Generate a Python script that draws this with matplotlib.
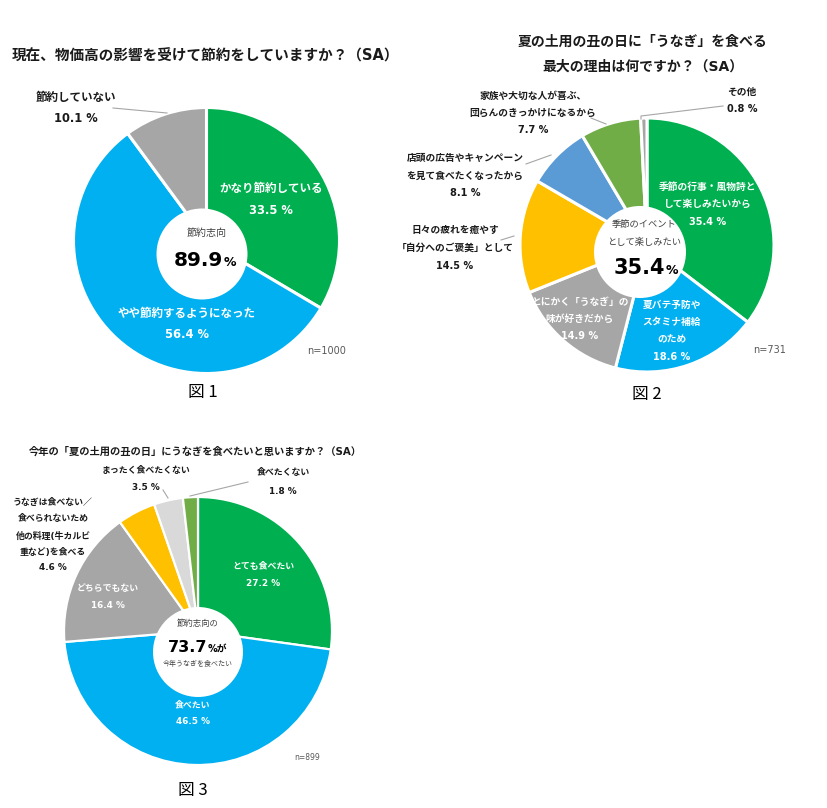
import matplotlib
matplotlib.use("Agg")
import matplotlib.pyplot as plt
from matplotlib.patches import Circle

# ---------------- data ----------------
c1_title = "現在、物価高の影響を受けて節約をしていますか？（SA）"
c1_cats = ["かなり節約している", "やや節約するようになった", "節約していない"]
c1_vals = [33.5, 56.4, 10.1]
c1_center_label = "節約志向"
c1_center_value = "89.9"
c1_n = "n=1000"

c2_title = ["夏の土用の丑の日に「うなぎ」を食べる", "最大の理由は何ですか？（SA）"]
c2_cats = ["季節の行事・風物詩と\nして楽しみたいから", "夏バテ予防や\nスタミナ補給\nのため",
           "とにかく「うなぎ」の\n味が好きだから", "日々の疲れを癒やす\n「自分へのご褒美」として",
           "店頭の広告やキャンペーン\nを見て食べたくなったから",
           "家族や大切な人が喜ぶ、\n団らんのきっかけになるから", "その他"]
c2_vals = [35.4, 18.6, 14.9, 14.5, 8.1, 7.7, 0.8]
c2_center_label = ["季節のイベント", "として楽しみたい"]
c2_center_value = "35.4"
c2_n = "n=731"

c3_title = "今年の「夏の土用の丑の日」にうなぎを食べたいと思いますか？（SA）"
c3_cats = ["とても食べたい", "食べたい", "どちらでもない",
           "うなぎは食べない／\n食べられないため\n他の料理(牛カルビ\n重など)を食べる",
           "まったく食べたくない", "食べたくない"]
c3_vals = [27.2, 46.5, 16.4, 4.6, 3.5, 1.8]
c3_center_label = ["節約志向の", "今年うなぎを食べたい"]
c3_center_value = "73.7"
c3_n = "n=899"

fig_labels = ["図 1", "図 2", "図 3"]

# ---------------- styles ----------------
GREEN, BLUE, GRAY = "#00B050", "#00B0F0", "#A6A6A6"
YELLOW, BLUE2, GREEN2, LGRAY = "#FFC000", "#5B9BD5", "#70AD47", "#D9D9D9"
c1_colors = [GREEN, BLUE, GRAY]
c2_colors = [GREEN, BLUE, GRAY, YELLOW, BLUE2, GREEN2, GRAY]
c3_colors = [GREEN, BLUE, GRAY, YELLOW, LGRAY, GREEN2]

FAM = ["DejaVu Sans", "Noto Sans CJK JP"]
JFAM = ["Noto Sans CJK JP", "DejaVu Sans"]
DARK = "#1a1a1a"
LINEC = "#A6A6A6"

W, H = 827, 808
fig = plt.figure(figsize=(W / 100, H / 100), dpi=100)
ax = fig.add_axes([0, 0, 1, 1])


def Y(y):
    return H - y


def lines(x, ys, text, color=DARK, size=8, weight="bold", fam=FAM):
    for yy, s in zip(ys, text):
        ax.text(x, Y(yy), s, ha="center", va="center", color=color,
                fontsize=size, fontweight=weight, family=fam, zorder=8)


def donut(vals, colors, c, r, hole_c, hole_r, lw):
    ax.pie(vals, colors=colors, startangle=90, counterclock=False,
           center=(c[0], Y(c[1])), radius=r, frame=True,
           wedgeprops=dict(edgecolor="white", linewidth=lw))
    ax.add_patch(Circle((hole_c[0], Y(hole_c[1])), hole_r, facecolor="white",
                        edgecolor="none", zorder=5))


def leader(pts):
    ax.plot([p[0] for p in pts], [Y(p[1]) for p in pts], color=LINEC, lw=0.8, zorder=6)


def pct(v):
    return f"{v} %"


# ================= chart 1 =================
donut(c1_vals, c1_colors, (206.5, 240.5), 133, (202, 254), 45.5, 2.2)
ax.text(12, Y(56), c1_title, ha="left", va="center", fontsize=10.5,
        fontweight="bold", family=FAM, color=DARK)
pos1 = [(271, [188, 210], "white"), (187, [313, 335], "white"), (76, [98, 119], DARK)]
for cat, v, (x, ys, col) in zip(c1_cats, c1_vals, pos1):
    lines(x, ys, cat.split("\n") + [pct(v)], color=col, size=8.3)
leader([(113, 108), (167, 113)])
ax.text(207, Y(233), c1_center_label, ha="center", va="center", fontsize=7.2,
        family=JFAM, color="#404040", zorder=7)
ax.text(223, Y(266), c1_center_value, ha="right", va="baseline", fontsize=14.5,
        fontweight="bold", family=FAM, color="black", zorder=7)
ax.text(224, Y(266), "%", ha="left", va="baseline", fontsize=9,
        fontweight="bold", family=FAM, color="black", zorder=7)
ax.text(327, Y(351), c1_n, ha="center", va="center", fontsize=7,
        family=FAM, color="#595959")
ax.text(203, Y(392), fig_labels[0], ha="center", va="center", fontsize=12,
        family=JFAM, color="black")

# ================= chart 2 =================
donut(c2_vals, c2_colors, (647, 245), 127, (640, 252), 46, 2.2)
lines(643, [42, 67], c2_title, size=10)
pos2 = [(708, [187, 204, 222], "white"), (672, [305, 322, 339, 357], "white"),
        (580, [302, 319, 336], "white"), (455, [230, 248, 266], DARK),
        (465, [158, 176, 193], DARK), (533, [96, 113, 130], DARK),
        (742, [92, 109], DARK)]
for cat, v, (x, ys, col) in zip(c2_cats, c2_vals, pos2):
    lines(x, ys, cat.split("\n") + [pct(v)], color=col, size=7)
leader([(641, 119), (641, 116), (723, 106)])
leader([(591, 118), (606, 124)])
leader([(526, 164), (551, 155)])
leader([(501, 240), (514, 236)])
for yy, s in zip([225, 242], c2_center_label):
    ax.text(644, Y(yy), s, ha="center", va="center", fontsize=6.7,
            family=JFAM, color="#404040", zorder=7)
ax.text(665, Y(274), c2_center_value, ha="right", va="baseline", fontsize=15,
        fontweight="bold", family=FAM, color="black", zorder=7)
ax.text(666, Y(274), "%", ha="left", va="baseline", fontsize=9,
        fontweight="bold", family=FAM, color="black", zorder=7)
ax.text(770, Y(350), c2_n, ha="center", va="center", fontsize=7,
        family=FAM, color="#595959")
ax.text(647, Y(395), fig_labels[1], ha="center", va="center", fontsize=12,
        family=JFAM, color="black")

# ================= chart 3 =================
donut(c3_vals, c3_colors, (198, 631), 134, (198, 652), 45, 1.6)
ax.text(195, Y(452), c3_title, ha="center", va="center", fontsize=7.4,
        fontweight="bold", family=FAM, color=DARK)
pos3 = [(263, [566, 583], "white"), (193, [705, 722], "white"),
        (108, [588, 605], "white"), (53, [502, 519, 536, 552, 568], DARK),
        (146, [471, 488], DARK), (283, [473, 491], DARK)]
for cat, v, (x, ys, col) in zip(c3_cats, c3_vals, pos3):
    lines(x, ys, cat.split("\n") + [pct(v)], color=col, size=6.4)
leader([(163, 490), (168, 498)])
leader([(248, 482), (190, 496)])
ax.text(198, Y(623), c3_center_label[0], ha="center", va="center", fontsize=6,
        family=JFAM, color="#404040", zorder=7)
ax.text(207, Y(652), c3_center_value, ha="right", va="baseline", fontsize=11.5,
        fontweight="bold", family=FAM, color="black", zorder=7)
ax.text(208, Y(652), "%が", ha="left", va="baseline", fontsize=7,
        fontweight="bold", family=FAM, color="black", zorder=7)
ax.text(198, Y(664), c3_center_label[1], ha="center", va="center", fontsize=5,
        family=JFAM, color="#404040", zorder=7)
ax.text(307, Y(758), c3_n, ha="center", va="center", fontsize=5.5,
        family=FAM, color="#595959")
ax.text(193, Y(790), fig_labels[2], ha="center", va="center", fontsize=12,
        family=JFAM, color="black")

ax.set_xlim(0, W)
ax.set_ylim(0, H)
ax.set_aspect("auto")
ax.axis("off")
fig.savefig("out.png", dpi=100, facecolor="white")
